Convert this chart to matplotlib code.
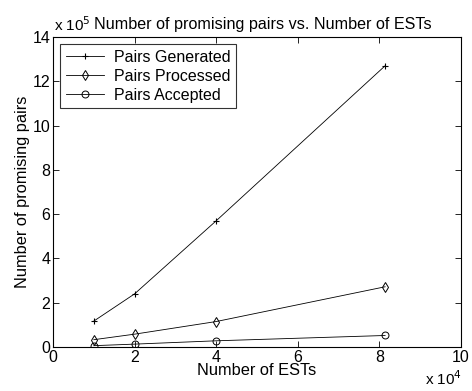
import matplotlib.pyplot as plt

plt.rcParams['font.family'] = ['Liberation Sans', 'DejaVu Sans']

# Number of ESTs and promising pair counts
ests = [10000, 20000, 40000, 81400]
pairs_generated = [117000, 240000, 570000, 1270000]
pairs_processed = [33000, 58000, 115000, 272000]
pairs_accepted = [6000, 13000, 28000, 52000]

fig = plt.figure(figsize=(4.72, 3.91), dpi=100)
ax = fig.add_axes([53 / 472, 44 / 391, 408 / 472, 310 / 391])

x = [e / 1e4 for e in ests]
ax.plot(x, [p / 1e5 for p in pairs_generated], 'k-', marker='+', ms=5, mew=0.8, lw=0.6,
        label='Pairs Generated')
ax.plot(x, [p / 1e5 for p in pairs_processed], 'k-', marker='d', ms=5, mfc='none', mew=0.7,
        lw=0.6, label='Pairs Processed')
ax.plot(x, [p / 1e5 for p in pairs_accepted], 'k-', marker='o', ms=5, mfc='none', mew=0.7,
        lw=0.6, label='Pairs Accepted')

ax.set_xlim(0, 10)
ax.set_ylim(0, 14)
ax.set_xticks(range(0, 11, 2))
ax.set_yticks(range(0, 15, 2))
ax.tick_params(direction='in', top=True, right=True, labelsize=11.5, length=4, width=0.6, pad=2)
for s in ax.spines.values():
    s.set_linewidth(0.8)

ax.set_xlabel('Number of ESTs', fontsize=11.8, labelpad=-1)
ax.set_ylabel('Number of promising pairs', fontsize=11.8, labelpad=2)
ax.set_title('Number of promising pairs vs. Number of ESTs', fontsize=11.6, pad=6, x=0.515)

# exponent labels for both axes
ax.text(0.003, 1.01, r'x 10$^5$', transform=ax.transAxes, fontsize=11, va='bottom', ha='left')
fig.text(462 / 472, 6 / 391, r'x 10$^4$', fontsize=11, va='baseline', ha='right')

leg = ax.legend(loc='upper left', fontsize=11.5, frameon=True, fancybox=False, edgecolor='k',
                borderaxespad=0.45, handlelength=2.4, handletextpad=0.6, labelspacing=0.25,
                borderpad=0.35)
leg.get_frame().set_linewidth(0.8)

fig.savefig('out.png', dpi=100)
